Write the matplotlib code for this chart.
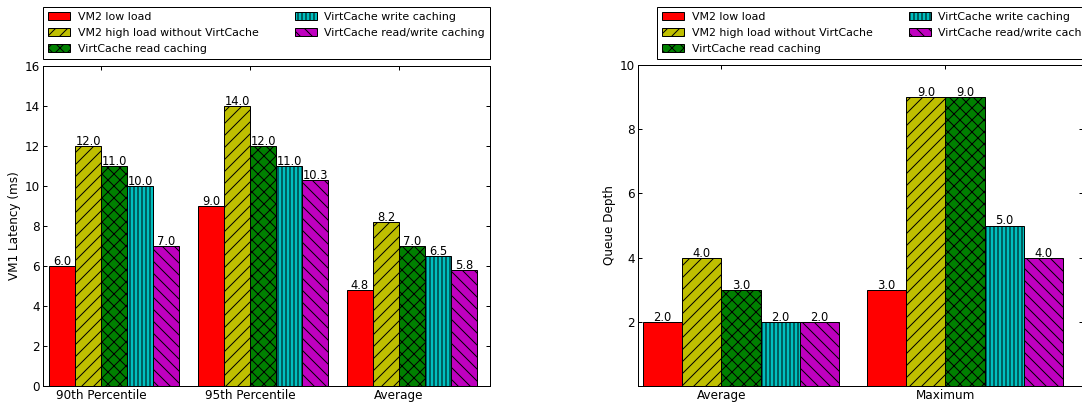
import matplotlib
matplotlib.use("Agg")
import matplotlib.pyplot as plt
import numpy as np

# series shared by both panels
series = ["VM2 low load", "VM2 high load without VirtCache",
          "VirtCache read caching", "VirtCache write caching",
          "VirtCache read/write caching"]
colors = ["r", "y", "g", "c", "m"]
hatches = ["", "//", "xx", "|||", "\\\\"]

# latency panel
lat_groups = ["90th Percentile", "95th Percentile", "Average"]
lat_low = [6.0, 9.0, 4.8]
lat_high = [12.0, 14.0, 8.2]
lat_read = [11.0, 12.0, 7.0]
lat_write = [10.0, 11.0, 6.5]
lat_rw = [7.0, 10.3, 5.8]

# queue depth panel
qd_groups = ["Average", "Maximum"]
qd_low = [2.0, 3.0]
qd_high = [4.0, 9.0]
qd_read = [3.0, 9.0]
qd_write = [2.0, 5.0]
qd_rw = [2.0, 4.0]

DPI = 72
W, H = 1082, 405
plt.rcParams["hatch.linewidth"] = 1.0
plt.rcParams["font.family"] = "DejaVu Sans"

fig = plt.figure(figsize=(W / DPI, H / DPI), dpi=DPI)

width = 0.175


def px(x0, y0, x1, y1):
    return [x0 / W, 1 - y1 / H, (x1 - x0) / W, (y1 - y0) / H]


def draw(ax, groups, data, ylim, yticks, ylabel, xlim):
    ind = np.arange(len(groups))
    handles = []
    for i, vals in enumerate(data):
        b = ax.bar(ind + i * width, vals, width, align="edge",
                   color=colors[i], edgecolor="k", hatch=hatches[i],
                   linewidth=1.0, label=series[i])
        handles.append(b)
        for xx, v in zip(ind + i * width, vals):
            ax.annotate("%.1f" % v, (xx + width / 2, v), xytext=(0, 1),
                        textcoords="offset points", ha="center",
                        va="baseline", fontsize=11.5)
    ax.set_xlim(*xlim)
    ax.set_ylim(*ylim)
    ax.set_yticks(yticks)
    ax.set_xticks(ind + 2 * width)
    ax.set_xticklabels(groups)
    ax.set_ylabel(ylabel, fontsize=12)
    ax.tick_params(direction="in", top=True, right=True, length=4,
                   width=1, labelsize=12, pad=3)
    for s in ax.spines.values():
        s.set_linewidth(1.0)
    return handles


ax1 = fig.add_axes(px(43, 66, 490, 386))
h1 = draw(ax1, lat_groups, [lat_low, lat_high, lat_read, lat_write, lat_rw],
          (0, 16), range(0, 17, 2), "VM1 Latency (ms)", (-0.04, 2.96))

ax2 = fig.add_axes(px(638, 65, 1083, 386))
h2 = draw(ax2, qd_groups, [qd_low, qd_high, qd_read, qd_write, qd_rw],
          (0, 10), range(2, 11, 2), "Queue Depth", (-0.022, 1.964))

for x0, x1 in [(43, 490), (657, 1104)]:
    fig.legend(h1, series, loc="upper left", ncol=2, mode="expand",
               bbox_to_anchor=(x0 / W, 1 - 7 / H, (x1 - x0) / W, 0.0),
               fontsize=11, labelspacing=0.55, borderpad=0.45,
               handlelength=2.0, handletextpad=0.7, borderaxespad=0.0,
               fancybox=False, framealpha=1.0, edgecolor="k")

fig.savefig("out.png", dpi=DPI)
